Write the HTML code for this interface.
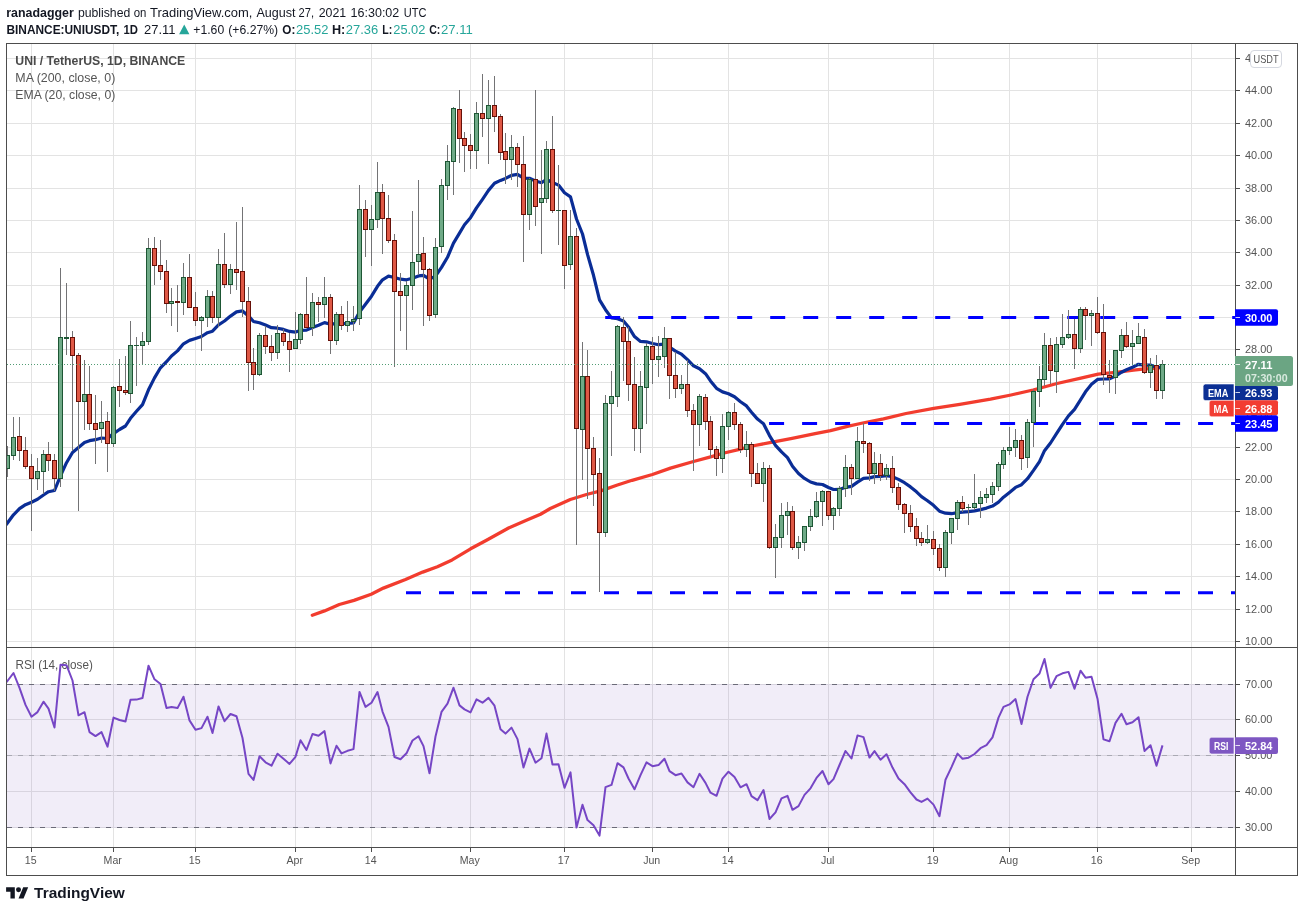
<!DOCTYPE html>
<html lang="en"><head><meta charset="utf-8"><title>UNIUSDT chart</title>
<style>html,body{margin:0;padding:0;background:#fff;}body{width:1304px;height:912px;position:relative;overflow:hidden;font-family:"Liberation Sans",Arial,sans-serif;}</style></head>
<body>
<svg width="1304" height="912" viewBox="0 0 1304 912" style="position:absolute;left:0;top:0" font-family="Liberation Sans, Arial, sans-serif">
<rect x="0" y="0" width="1304" height="912" fill="#ffffff"/>
<defs><clipPath id="cm"><rect x="7.0" y="44.0" width="1228.0" height="603.0"/></clipPath><clipPath id="cr"><rect x="7.0" y="648.0" width="1228.0" height="199.0"/></clipPath></defs>
<g stroke="#e3e3e3" stroke-width="1" shape-rendering="crispEdges">
<line x1="31.5" y1="43.5" x2="31.5" y2="847.5"/>
<line x1="113.5" y1="43.5" x2="113.5" y2="847.5"/>
<line x1="195.5" y1="43.5" x2="195.5" y2="847.5"/>
<line x1="295.5" y1="43.5" x2="295.5" y2="847.5"/>
<line x1="371.5" y1="43.5" x2="371.5" y2="847.5"/>
<line x1="470.5" y1="43.5" x2="470.5" y2="847.5"/>
<line x1="564.5" y1="43.5" x2="564.5" y2="847.5"/>
<line x1="652.5" y1="43.5" x2="652.5" y2="847.5"/>
<line x1="728.5" y1="43.5" x2="728.5" y2="847.5"/>
<line x1="828.5" y1="43.5" x2="828.5" y2="847.5"/>
<line x1="933.5" y1="43.5" x2="933.5" y2="847.5"/>
<line x1="1009.5" y1="43.5" x2="1009.5" y2="847.5"/>
<line x1="1097.5" y1="43.5" x2="1097.5" y2="847.5"/>
<line x1="1191.5" y1="43.5" x2="1191.5" y2="847.5"/>
<line x1="6.5" y1="641.5" x2="1235.5" y2="641.5"/>
<line x1="6.5" y1="609.5" x2="1235.5" y2="609.5"/>
<line x1="6.5" y1="576.5" x2="1235.5" y2="576.5"/>
<line x1="6.5" y1="544.5" x2="1235.5" y2="544.5"/>
<line x1="6.5" y1="511.5" x2="1235.5" y2="511.5"/>
<line x1="6.5" y1="479.5" x2="1235.5" y2="479.5"/>
<line x1="6.5" y1="447.5" x2="1235.5" y2="447.5"/>
<line x1="6.5" y1="414.5" x2="1235.5" y2="414.5"/>
<line x1="6.5" y1="382.5" x2="1235.5" y2="382.5"/>
<line x1="6.5" y1="349.5" x2="1235.5" y2="349.5"/>
<line x1="6.5" y1="317.5" x2="1235.5" y2="317.5"/>
<line x1="6.5" y1="285.5" x2="1235.5" y2="285.5"/>
<line x1="6.5" y1="252.5" x2="1235.5" y2="252.5"/>
<line x1="6.5" y1="220.5" x2="1235.5" y2="220.5"/>
<line x1="6.5" y1="188.5" x2="1235.5" y2="188.5"/>
<line x1="6.5" y1="155.5" x2="1235.5" y2="155.5"/>
<line x1="6.5" y1="123.5" x2="1235.5" y2="123.5"/>
<line x1="6.5" y1="90.5" x2="1235.5" y2="90.5"/>
<line x1="6.5" y1="58.5" x2="1235.5" y2="58.5"/>
<line x1="6.5" y1="684.5" x2="1235.5" y2="684.5"/>
<line x1="6.5" y1="719.5" x2="1235.5" y2="719.5"/>
<line x1="6.5" y1="755.5" x2="1235.5" y2="755.5"/>
<line x1="6.5" y1="791.5" x2="1235.5" y2="791.5"/>
<line x1="6.5" y1="827.5" x2="1235.5" y2="827.5"/>
</g>
<rect x="7.0" y="684" width="1228.0" height="144" fill="#7e57c2" fill-opacity="0.11"/>
<g fill="#4a4a4a" font-size="13px">
<text x="15.3" y="64.7" font-weight="bold" textLength="170" lengthAdjust="spacingAndGlyphs">UNI / TetherUS, 1D, BINANCE</text>
<text x="15.3" y="81.6" fill="#555555" textLength="100" lengthAdjust="spacingAndGlyphs">MA (200, close, 0)</text>
<text x="15.3" y="98.8" fill="#555555" textLength="100" lengthAdjust="spacingAndGlyphs">EMA (20, close, 0)</text>
<text x="15.5" y="669.3" fill="#555555" textLength="77.3" lengthAdjust="spacingAndGlyphs">RSI (14, close)</text>
</g>
<g stroke-width="1" shape-rendering="crispEdges" fill="none">
<line x1="6.5" y1="684.5" x2="1235.5" y2="684.5" stroke="#6b6b78" stroke-dasharray="5 6"/>
<line x1="6.5" y1="827.5" x2="1235.5" y2="827.5" stroke="#6b6b78" stroke-dasharray="5 6"/>
<line x1="6.5" y1="755.5" x2="1235.5" y2="755.5" stroke="#a9a9b3" stroke-dasharray="5 6"/>
</g>
<g clip-path="url(#cm)">
<polyline fill="none" stroke="#f23c2e" stroke-width="3.3" stroke-linejoin="round" stroke-linecap="round" points="312.3,615.3 324.5,610.9 339.3,604.5 354.0,600.4 371.2,594.2 383.4,588.1 405.5,579.5 422.7,572.1 437.4,566.7 452.1,559.9 470.6,548.8 486.5,540.2 508.6,528.0 525.8,520.6 540.5,514.2 550.3,508.5 570.3,499.5 586.5,494.5 601.6,490.6 616.7,485.3 632.1,480.3 652.4,474.5 670.5,468.1 693.5,461.5 708.8,457.3 724.2,453.0 738.4,449.6 752.2,446.0 773.7,441.9 792.1,438.3 815.1,433.7 830.5,430.7 847.4,426.3 862.7,423.0 883.5,418.8 906.0,413.5 933.7,408.4 959.8,404.3 990.5,399.2 1011.0,395.0 1033.0,390.0 1057.0,383.5 1079.8,378.3 1098.2,374.1 1118.1,372.1 1133.5,370.1 1142.7,369.2 1162.5,367.7"/>
<polyline fill="none" stroke="#0a2d96" stroke-width="3.2" stroke-linejoin="round" stroke-linecap="round" points="6.5,524.2 13.5,514.8 19.5,508.7 25.5,504.7 31.5,502.2 37.5,499.3 43.5,495.0 48.5,491.7 54.5,490.5 60.5,475.9 66.5,462.7 72.5,452.5 78.5,447.6 84.5,442.5 89.5,440.7 95.5,439.7 101.5,438.0 107.5,438.5 113.5,433.6 119.5,429.5 125.5,426.0 130.5,418.3 136.5,411.3 142.5,404.6 148.5,389.8 154.5,377.9 160.5,367.8 166.5,361.7 171.5,356.0 177.5,350.9 183.5,343.8 189.5,340.4 195.5,338.5 201.5,336.5 207.5,332.7 212.5,331.2 218.5,324.9 224.5,321.0 230.5,316.1 236.5,311.9 242.5,310.9 248.5,315.9 253.5,321.5 259.5,322.8 265.5,325.0 271.5,327.7 277.5,328.2 283.5,329.4 289.5,331.4 295.5,332.1 300.5,330.4 306.5,330.1 312.5,327.5 318.5,325.3 324.5,322.6 330.5,324.3 336.5,323.4 341.5,323.6 347.5,323.4 353.5,323.0 359.5,312.1 365.5,304.2 371.5,296.2 377.5,286.3 382.5,279.8 388.5,276.1 394.5,277.5 400.5,279.2 406.5,279.8 412.5,278.2 418.5,275.9 423.5,275.3 429.5,279.1 435.5,276.1 441.5,267.4 447.5,257.3 453.5,243.1 459.5,233.2 464.5,224.8 470.5,217.7 476.5,207.8 482.5,199.3 488.5,190.4 494.5,183.3 500.5,180.4 505.5,178.4 511.5,175.4 517.5,174.4 523.5,178.2 529.5,178.3 535.5,181.0 541.5,182.7 546.5,179.5 552.5,182.5 558.5,185.1 564.5,192.8 570.5,196.9 576.5,219.0 582.5,234.0 587.5,254.4 593.5,275.3 599.5,299.8 605.5,309.7 611.5,317.9 617.5,318.7 623.5,320.9 628.5,326.9 634.5,336.6 640.5,341.4 646.5,341.8 652.5,343.5 658.5,344.7 664.5,344.1 669.5,347.1 675.5,351.1 681.5,354.2 687.5,359.6 693.5,365.8 699.5,368.7 705.5,373.7 710.5,380.9 716.5,388.3 722.5,391.9 728.5,393.8 734.5,396.8 740.5,401.8 746.5,405.9 751.5,412.3 757.5,419.1 763.5,423.8 769.5,435.6 775.5,445.3 781.5,451.9 787.5,457.6 792.5,466.2 798.5,473.4 804.5,478.4 810.5,482.0 816.5,483.9 822.5,484.5 828.5,487.5 833.5,489.5 839.5,489.4 845.5,487.3 851.5,486.4 857.5,482.1 863.5,478.4 869.5,477.9 874.5,476.6 880.5,476.5 886.5,475.7 892.5,476.8 898.5,479.4 904.5,482.7 910.5,486.9 916.5,491.8 921.5,496.6 927.5,500.7 933.5,505.3 939.5,511.2 945.5,513.2 951.5,513.7 957.5,512.6 962.5,512.2 968.5,511.7 974.5,510.9 980.5,509.6 986.5,508.1 992.5,506.1 998.5,502.1 1003.5,497.2 1009.5,492.4 1015.5,487.4 1021.5,484.7 1027.5,478.7 1033.5,470.4 1039.5,461.7 1044.5,450.7 1050.5,443.0 1056.5,433.6 1062.5,424.4 1068.5,415.8 1074.5,409.4 1080.5,399.9 1085.5,391.8 1091.5,384.3 1097.5,379.4 1103.5,379.0 1109.5,378.8 1115.5,376.1 1121.5,372.2 1126.5,369.8 1132.5,367.3 1138.5,364.3 1144.5,365.1 1150.5,365.1 1156.5,367.5 1162.5,367.2"/>
<line x1="605.2" y1="317.6" x2="1235.5" y2="317.6" stroke="#0000ff" stroke-width="3" stroke-dasharray="15 18"/>
<line x1="769.1" y1="423.6" x2="1235.5" y2="423.6" stroke="#0000ff" stroke-width="3" stroke-dasharray="15 18"/>
<line x1="406.0" y1="592.8" x2="1235.5" y2="592.8" stroke="#0000ff" stroke-width="3" stroke-dasharray="15 18"/>
<g stroke="#737375" stroke-width="1" shape-rendering="crispEdges">
<line x1="7.5" y1="446" x2="7.5" y2="477"/>
<line x1="13.5" y1="417" x2="13.5" y2="460"/>
<line x1="19.5" y1="417" x2="19.5" y2="461"/>
<line x1="25.5" y1="437" x2="25.5" y2="469"/>
<line x1="31.5" y1="454" x2="31.5" y2="531"/>
<line x1="37.5" y1="458" x2="37.5" y2="490"/>
<line x1="43.5" y1="450" x2="43.5" y2="494"/>
<line x1="48.5" y1="442" x2="48.5" y2="471"/>
<line x1="54.5" y1="454" x2="54.5" y2="491"/>
<line x1="60.5" y1="268" x2="60.5" y2="487"/>
<line x1="66.5" y1="283" x2="66.5" y2="355"/>
<line x1="72.5" y1="331" x2="72.5" y2="451"/>
<line x1="78.5" y1="353" x2="78.5" y2="511"/>
<line x1="84.5" y1="360" x2="84.5" y2="430"/>
<line x1="89.5" y1="366" x2="89.5" y2="430"/>
<line x1="95.5" y1="395" x2="95.5" y2="464"/>
<line x1="101.5" y1="401" x2="101.5" y2="443"/>
<line x1="107.5" y1="412" x2="107.5" y2="472"/>
<line x1="113.5" y1="386" x2="113.5" y2="447"/>
<line x1="119.5" y1="359" x2="119.5" y2="407"/>
<line x1="125.5" y1="356" x2="125.5" y2="395"/>
<line x1="130.5" y1="321" x2="130.5" y2="403"/>
<line x1="136.5" y1="337" x2="136.5" y2="386"/>
<line x1="142.5" y1="332" x2="142.5" y2="364"/>
<line x1="148.5" y1="238" x2="148.5" y2="345"/>
<line x1="154.5" y1="237" x2="154.5" y2="285"/>
<line x1="160.5" y1="240" x2="160.5" y2="280"/>
<line x1="166.5" y1="260" x2="166.5" y2="313"/>
<line x1="171.5" y1="288" x2="171.5" y2="326"/>
<line x1="177.5" y1="285" x2="177.5" y2="332"/>
<line x1="183.5" y1="263" x2="183.5" y2="315"/>
<line x1="189.5" y1="254" x2="189.5" y2="308"/>
<line x1="195.5" y1="292" x2="195.5" y2="326"/>
<line x1="201.5" y1="316" x2="201.5" y2="351"/>
<line x1="207.5" y1="290" x2="207.5" y2="327"/>
<line x1="212.5" y1="291" x2="212.5" y2="323"/>
<line x1="218.5" y1="249" x2="218.5" y2="327"/>
<line x1="224.5" y1="233" x2="224.5" y2="288"/>
<line x1="230.5" y1="264" x2="230.5" y2="294"/>
<line x1="236.5" y1="222" x2="236.5" y2="290"/>
<line x1="242.5" y1="207" x2="242.5" y2="317"/>
<line x1="248.5" y1="287" x2="248.5" y2="391"/>
<line x1="253.5" y1="348" x2="253.5" y2="390"/>
<line x1="259.5" y1="333" x2="259.5" y2="376"/>
<line x1="265.5" y1="326" x2="265.5" y2="354"/>
<line x1="271.5" y1="335" x2="271.5" y2="361"/>
<line x1="277.5" y1="325" x2="277.5" y2="359"/>
<line x1="283.5" y1="329" x2="283.5" y2="346"/>
<line x1="289.5" y1="333" x2="289.5" y2="372"/>
<line x1="295.5" y1="312" x2="295.5" y2="349"/>
<line x1="300.5" y1="313" x2="300.5" y2="344"/>
<line x1="306.5" y1="277" x2="306.5" y2="328"/>
<line x1="312.5" y1="293" x2="312.5" y2="336"/>
<line x1="318.5" y1="297" x2="318.5" y2="322"/>
<line x1="324.5" y1="277" x2="324.5" y2="318"/>
<line x1="330.5" y1="294" x2="330.5" y2="354"/>
<line x1="336.5" y1="312" x2="336.5" y2="345"/>
<line x1="341.5" y1="306" x2="341.5" y2="330"/>
<line x1="347.5" y1="301" x2="347.5" y2="332"/>
<line x1="353.5" y1="306" x2="353.5" y2="331"/>
<line x1="359.5" y1="185" x2="359.5" y2="325"/>
<line x1="365.5" y1="200" x2="365.5" y2="257"/>
<line x1="371.5" y1="205" x2="371.5" y2="266"/>
<line x1="377.5" y1="162" x2="377.5" y2="228"/>
<line x1="382.5" y1="184" x2="382.5" y2="254"/>
<line x1="388.5" y1="195" x2="388.5" y2="243"/>
<line x1="394.5" y1="234" x2="394.5" y2="367"/>
<line x1="400.5" y1="273" x2="400.5" y2="331"/>
<line x1="406.5" y1="281" x2="406.5" y2="350"/>
<line x1="412.5" y1="211" x2="412.5" y2="310"/>
<line x1="418.5" y1="180" x2="418.5" y2="275"/>
<line x1="423.5" y1="237" x2="423.5" y2="326"/>
<line x1="429.5" y1="268" x2="429.5" y2="321"/>
<line x1="435.5" y1="238" x2="435.5" y2="318"/>
<line x1="441.5" y1="179" x2="441.5" y2="253"/>
<line x1="447.5" y1="145" x2="447.5" y2="200"/>
<line x1="453.5" y1="107" x2="453.5" y2="195"/>
<line x1="459.5" y1="90" x2="459.5" y2="163"/>
<line x1="464.5" y1="132" x2="464.5" y2="172"/>
<line x1="470.5" y1="134" x2="470.5" y2="169"/>
<line x1="476.5" y1="102" x2="476.5" y2="169"/>
<line x1="482.5" y1="74" x2="482.5" y2="137"/>
<line x1="488.5" y1="80" x2="488.5" y2="164"/>
<line x1="494.5" y1="76" x2="494.5" y2="132"/>
<line x1="500.5" y1="114" x2="500.5" y2="160"/>
<line x1="505.5" y1="133" x2="505.5" y2="184"/>
<line x1="511.5" y1="135" x2="511.5" y2="180"/>
<line x1="517.5" y1="143" x2="517.5" y2="187"/>
<line x1="523.5" y1="136" x2="523.5" y2="262"/>
<line x1="529.5" y1="178" x2="529.5" y2="230"/>
<line x1="535.5" y1="90" x2="535.5" y2="226"/>
<line x1="541.5" y1="150" x2="541.5" y2="254"/>
<line x1="546.5" y1="141" x2="546.5" y2="203"/>
<line x1="552.5" y1="116" x2="552.5" y2="213"/>
<line x1="558.5" y1="165" x2="558.5" y2="245"/>
<line x1="564.5" y1="210" x2="564.5" y2="289"/>
<line x1="570.5" y1="210" x2="570.5" y2="270"/>
<line x1="576.5" y1="228" x2="576.5" y2="545"/>
<line x1="582.5" y1="342" x2="582.5" y2="480"/>
<line x1="587.5" y1="350" x2="587.5" y2="499"/>
<line x1="593.5" y1="437" x2="593.5" y2="506"/>
<line x1="599.5" y1="458" x2="599.5" y2="592"/>
<line x1="605.5" y1="395" x2="605.5" y2="537"/>
<line x1="611.5" y1="371" x2="611.5" y2="456"/>
<line x1="617.5" y1="325" x2="617.5" y2="407"/>
<line x1="623.5" y1="317" x2="623.5" y2="381"/>
<line x1="628.5" y1="327" x2="628.5" y2="401"/>
<line x1="634.5" y1="357" x2="634.5" y2="451"/>
<line x1="640.5" y1="371" x2="640.5" y2="453"/>
<line x1="646.5" y1="343" x2="646.5" y2="424"/>
<line x1="652.5" y1="337" x2="652.5" y2="384"/>
<line x1="658.5" y1="336" x2="658.5" y2="377"/>
<line x1="664.5" y1="327" x2="664.5" y2="368"/>
<line x1="669.5" y1="338" x2="669.5" y2="399"/>
<line x1="675.5" y1="352" x2="675.5" y2="398"/>
<line x1="681.5" y1="375" x2="681.5" y2="394"/>
<line x1="687.5" y1="360" x2="687.5" y2="417"/>
<line x1="693.5" y1="404" x2="693.5" y2="471"/>
<line x1="699.5" y1="394" x2="699.5" y2="446"/>
<line x1="705.5" y1="394" x2="705.5" y2="430"/>
<line x1="710.5" y1="416" x2="710.5" y2="458"/>
<line x1="716.5" y1="446" x2="716.5" y2="476"/>
<line x1="722.5" y1="414" x2="722.5" y2="473"/>
<line x1="728.5" y1="411" x2="728.5" y2="440"/>
<line x1="734.5" y1="403" x2="734.5" y2="430"/>
<line x1="740.5" y1="422" x2="740.5" y2="453"/>
<line x1="746.5" y1="431" x2="746.5" y2="457"/>
<line x1="751.5" y1="442" x2="751.5" y2="487"/>
<line x1="757.5" y1="463" x2="757.5" y2="484"/>
<line x1="763.5" y1="462" x2="763.5" y2="502"/>
<line x1="769.5" y1="465" x2="769.5" y2="549"/>
<line x1="775.5" y1="524" x2="775.5" y2="578"/>
<line x1="781.5" y1="503" x2="781.5" y2="548"/>
<line x1="787.5" y1="502" x2="787.5" y2="535"/>
<line x1="792.5" y1="506" x2="792.5" y2="550"/>
<line x1="798.5" y1="536" x2="798.5" y2="559"/>
<line x1="804.5" y1="526" x2="804.5" y2="551"/>
<line x1="810.5" y1="509" x2="810.5" y2="531"/>
<line x1="816.5" y1="492" x2="816.5" y2="518"/>
<line x1="822.5" y1="490" x2="822.5" y2="526"/>
<line x1="828.5" y1="491" x2="828.5" y2="520"/>
<line x1="833.5" y1="507" x2="833.5" y2="530"/>
<line x1="839.5" y1="486" x2="839.5" y2="516"/>
<line x1="845.5" y1="455" x2="845.5" y2="497"/>
<line x1="851.5" y1="464" x2="851.5" y2="495"/>
<line x1="857.5" y1="427" x2="857.5" y2="479"/>
<line x1="863.5" y1="423" x2="863.5" y2="453"/>
<line x1="869.5" y1="442" x2="869.5" y2="481"/>
<line x1="874.5" y1="452" x2="874.5" y2="484"/>
<line x1="880.5" y1="454" x2="880.5" y2="481"/>
<line x1="886.5" y1="464" x2="886.5" y2="480"/>
<line x1="892.5" y1="456" x2="892.5" y2="493"/>
<line x1="898.5" y1="483" x2="898.5" y2="510"/>
<line x1="904.5" y1="503" x2="904.5" y2="533"/>
<line x1="910.5" y1="505" x2="910.5" y2="532"/>
<line x1="916.5" y1="518" x2="916.5" y2="546"/>
<line x1="921.5" y1="532" x2="921.5" y2="546"/>
<line x1="927.5" y1="525" x2="927.5" y2="544"/>
<line x1="933.5" y1="531" x2="933.5" y2="555"/>
<line x1="939.5" y1="544" x2="939.5" y2="571"/>
<line x1="945.5" y1="530" x2="945.5" y2="577"/>
<line x1="951.5" y1="518" x2="951.5" y2="544"/>
<line x1="957.5" y1="500" x2="957.5" y2="530"/>
<line x1="962.5" y1="496" x2="962.5" y2="512"/>
<line x1="968.5" y1="504" x2="968.5" y2="525"/>
<line x1="974.5" y1="474" x2="974.5" y2="510"/>
<line x1="980.5" y1="491" x2="980.5" y2="518"/>
<line x1="986.5" y1="488" x2="986.5" y2="503"/>
<line x1="992.5" y1="482" x2="992.5" y2="503"/>
<line x1="998.5" y1="462" x2="998.5" y2="491"/>
<line x1="1003.5" y1="447" x2="1003.5" y2="469"/>
<line x1="1009.5" y1="427" x2="1009.5" y2="455"/>
<line x1="1015.5" y1="429" x2="1015.5" y2="457"/>
<line x1="1021.5" y1="435" x2="1021.5" y2="470"/>
<line x1="1027.5" y1="419" x2="1027.5" y2="468"/>
<line x1="1033.5" y1="389" x2="1033.5" y2="447"/>
<line x1="1039.5" y1="366" x2="1039.5" y2="407"/>
<line x1="1044.5" y1="333" x2="1044.5" y2="386"/>
<line x1="1050.5" y1="338" x2="1050.5" y2="384"/>
<line x1="1056.5" y1="337" x2="1056.5" y2="393"/>
<line x1="1062.5" y1="314" x2="1062.5" y2="348"/>
<line x1="1068.5" y1="310" x2="1068.5" y2="339"/>
<line x1="1074.5" y1="319" x2="1074.5" y2="369"/>
<line x1="1080.5" y1="307" x2="1080.5" y2="353"/>
<line x1="1085.5" y1="307" x2="1085.5" y2="340"/>
<line x1="1091.5" y1="310" x2="1091.5" y2="346"/>
<line x1="1097.5" y1="297" x2="1097.5" y2="334"/>
<line x1="1103.5" y1="304" x2="1103.5" y2="385"/>
<line x1="1109.5" y1="360" x2="1109.5" y2="393"/>
<line x1="1115.5" y1="350" x2="1115.5" y2="394"/>
<line x1="1121.5" y1="329" x2="1121.5" y2="358"/>
<line x1="1126.5" y1="322" x2="1126.5" y2="348"/>
<line x1="1132.5" y1="330" x2="1132.5" y2="364"/>
<line x1="1138.5" y1="323" x2="1138.5" y2="344"/>
<line x1="1144.5" y1="329" x2="1144.5" y2="374"/>
<line x1="1150.5" y1="358" x2="1150.5" y2="388"/>
<line x1="1156.5" y1="355" x2="1156.5" y2="399"/>
<line x1="1162.5" y1="360" x2="1162.5" y2="399"/>
</g>
<rect x="5.5" y="455.5" width="4" height="13" fill="#6faa87" stroke="#1d5634" stroke-width="1"/>
<rect x="11.5" y="437.5" width="4" height="18" fill="#6faa87" stroke="#1d5634" stroke-width="1"/>
<rect x="17.5" y="436.5" width="4" height="14" fill="#df5845" stroke="#661008" stroke-width="1"/>
<rect x="23.5" y="450.5" width="4" height="16" fill="#df5845" stroke="#661008" stroke-width="1"/>
<rect x="29.5" y="466.5" width="4" height="12" fill="#df5845" stroke="#661008" stroke-width="1"/>
<rect x="35.5" y="471.5" width="4" height="7" fill="#6faa87" stroke="#1d5634" stroke-width="1"/>
<rect x="41.5" y="454.5" width="4" height="17" fill="#6faa87" stroke="#1d5634" stroke-width="1"/>
<rect x="46.5" y="454.5" width="4" height="6" fill="#df5845" stroke="#661008" stroke-width="1"/>
<rect x="52.5" y="460.5" width="4" height="18" fill="#df5845" stroke="#661008" stroke-width="1"/>
<rect x="58.5" y="337.5" width="4" height="141" fill="#6faa87" stroke="#1d5634" stroke-width="1"/>
<rect x="64.0" y="337" width="5" height="2" fill="#1d5634"/>
<rect x="70.5" y="337.5" width="4" height="18" fill="#df5845" stroke="#661008" stroke-width="1"/>
<rect x="76.5" y="355.5" width="4" height="46" fill="#df5845" stroke="#661008" stroke-width="1"/>
<rect x="82.5" y="394.5" width="4" height="7" fill="#6faa87" stroke="#1d5634" stroke-width="1"/>
<rect x="87.5" y="394.5" width="4" height="29" fill="#df5845" stroke="#661008" stroke-width="1"/>
<rect x="93.5" y="423.5" width="4" height="6" fill="#df5845" stroke="#661008" stroke-width="1"/>
<rect x="99.5" y="422.5" width="4" height="6" fill="#6faa87" stroke="#1d5634" stroke-width="1"/>
<rect x="105.5" y="421.5" width="4" height="22" fill="#df5845" stroke="#661008" stroke-width="1"/>
<rect x="111.5" y="387.5" width="4" height="56" fill="#6faa87" stroke="#1d5634" stroke-width="1"/>
<rect x="117.5" y="386.5" width="4" height="4" fill="#df5845" stroke="#661008" stroke-width="1"/>
<rect x="123.5" y="390.5" width="4" height="2" fill="#df5845" stroke="#661008" stroke-width="1"/>
<rect x="128.5" y="345.5" width="4" height="48" fill="#6faa87" stroke="#1d5634" stroke-width="1"/>
<rect x="134.0" y="345" width="5" height="1" fill="#1d5634"/>
<rect x="140.5" y="341.5" width="4" height="4" fill="#6faa87" stroke="#1d5634" stroke-width="1"/>
<rect x="146.5" y="248.5" width="4" height="93" fill="#6faa87" stroke="#1d5634" stroke-width="1"/>
<rect x="152.5" y="248.5" width="4" height="17" fill="#df5845" stroke="#661008" stroke-width="1"/>
<rect x="158.5" y="265.5" width="4" height="6" fill="#df5845" stroke="#661008" stroke-width="1"/>
<rect x="164.5" y="271.5" width="4" height="32" fill="#df5845" stroke="#661008" stroke-width="1"/>
<rect x="169.5" y="301.5" width="4" height="2" fill="#6faa87" stroke="#1d5634" stroke-width="1"/>
<rect x="175.0" y="301" width="5" height="2" fill="#661008"/>
<rect x="181.5" y="277.5" width="4" height="25" fill="#6faa87" stroke="#1d5634" stroke-width="1"/>
<rect x="187.5" y="277.5" width="4" height="30" fill="#df5845" stroke="#661008" stroke-width="1"/>
<rect x="193.5" y="307.5" width="4" height="13" fill="#df5845" stroke="#661008" stroke-width="1"/>
<rect x="199.5" y="317.5" width="4" height="3" fill="#6faa87" stroke="#1d5634" stroke-width="1"/>
<rect x="205.5" y="296.5" width="4" height="21" fill="#6faa87" stroke="#1d5634" stroke-width="1"/>
<rect x="210.5" y="296.5" width="4" height="21" fill="#df5845" stroke="#661008" stroke-width="1"/>
<rect x="216.5" y="264.5" width="4" height="53" fill="#6faa87" stroke="#1d5634" stroke-width="1"/>
<rect x="222.5" y="264.5" width="4" height="20" fill="#df5845" stroke="#661008" stroke-width="1"/>
<rect x="228.5" y="269.5" width="4" height="15" fill="#6faa87" stroke="#1d5634" stroke-width="1"/>
<rect x="234.5" y="269.5" width="4" height="3" fill="#df5845" stroke="#661008" stroke-width="1"/>
<rect x="240.5" y="271.5" width="4" height="30" fill="#df5845" stroke="#661008" stroke-width="1"/>
<rect x="246.5" y="301.5" width="4" height="61" fill="#df5845" stroke="#661008" stroke-width="1"/>
<rect x="251.5" y="362.5" width="4" height="12" fill="#df5845" stroke="#661008" stroke-width="1"/>
<rect x="257.5" y="335.5" width="4" height="39" fill="#6faa87" stroke="#1d5634" stroke-width="1"/>
<rect x="263.5" y="335.5" width="4" height="11" fill="#df5845" stroke="#661008" stroke-width="1"/>
<rect x="269.5" y="346.5" width="4" height="6" fill="#df5845" stroke="#661008" stroke-width="1"/>
<rect x="275.5" y="333.5" width="4" height="19" fill="#6faa87" stroke="#1d5634" stroke-width="1"/>
<rect x="281.5" y="333.5" width="4" height="8" fill="#df5845" stroke="#661008" stroke-width="1"/>
<rect x="287.5" y="341.5" width="4" height="8" fill="#df5845" stroke="#661008" stroke-width="1"/>
<rect x="293.5" y="339.5" width="4" height="9" fill="#6faa87" stroke="#1d5634" stroke-width="1"/>
<rect x="298.5" y="314.5" width="4" height="25" fill="#6faa87" stroke="#1d5634" stroke-width="1"/>
<rect x="304.5" y="314.5" width="4" height="13" fill="#df5845" stroke="#661008" stroke-width="1"/>
<rect x="310.5" y="302.5" width="4" height="25" fill="#6faa87" stroke="#1d5634" stroke-width="1"/>
<rect x="316.5" y="302.5" width="4" height="2" fill="#df5845" stroke="#661008" stroke-width="1"/>
<rect x="322.5" y="297.5" width="4" height="7" fill="#6faa87" stroke="#1d5634" stroke-width="1"/>
<rect x="328.5" y="297.5" width="4" height="43" fill="#df5845" stroke="#661008" stroke-width="1"/>
<rect x="334.5" y="314.5" width="4" height="26" fill="#6faa87" stroke="#1d5634" stroke-width="1"/>
<rect x="339.5" y="314.5" width="4" height="11" fill="#df5845" stroke="#661008" stroke-width="1"/>
<rect x="345.5" y="321.5" width="4" height="4" fill="#6faa87" stroke="#1d5634" stroke-width="1"/>
<rect x="351.5" y="319.5" width="4" height="2" fill="#6faa87" stroke="#1d5634" stroke-width="1"/>
<rect x="357.5" y="209.5" width="4" height="109" fill="#6faa87" stroke="#1d5634" stroke-width="1"/>
<rect x="363.5" y="209.5" width="4" height="20" fill="#df5845" stroke="#661008" stroke-width="1"/>
<rect x="369.5" y="219.5" width="4" height="10" fill="#6faa87" stroke="#1d5634" stroke-width="1"/>
<rect x="375.5" y="192.5" width="4" height="27" fill="#6faa87" stroke="#1d5634" stroke-width="1"/>
<rect x="380.5" y="192.5" width="4" height="26" fill="#df5845" stroke="#661008" stroke-width="1"/>
<rect x="386.5" y="218.5" width="4" height="22" fill="#df5845" stroke="#661008" stroke-width="1"/>
<rect x="392.5" y="240.5" width="4" height="51" fill="#df5845" stroke="#661008" stroke-width="1"/>
<rect x="398.5" y="291.5" width="4" height="4" fill="#df5845" stroke="#661008" stroke-width="1"/>
<rect x="404.5" y="285.5" width="4" height="10" fill="#6faa87" stroke="#1d5634" stroke-width="1"/>
<rect x="410.5" y="262.5" width="4" height="23" fill="#6faa87" stroke="#1d5634" stroke-width="1"/>
<rect x="416.5" y="254.5" width="4" height="7" fill="#6faa87" stroke="#1d5634" stroke-width="1"/>
<rect x="421.5" y="253.5" width="4" height="16" fill="#df5845" stroke="#661008" stroke-width="1"/>
<rect x="427.5" y="269.5" width="4" height="46" fill="#df5845" stroke="#661008" stroke-width="1"/>
<rect x="433.5" y="247.5" width="4" height="67" fill="#6faa87" stroke="#1d5634" stroke-width="1"/>
<rect x="439.5" y="185.5" width="4" height="61" fill="#6faa87" stroke="#1d5634" stroke-width="1"/>
<rect x="445.5" y="161.5" width="4" height="24" fill="#6faa87" stroke="#1d5634" stroke-width="1"/>
<rect x="451.5" y="108.5" width="4" height="53" fill="#6faa87" stroke="#1d5634" stroke-width="1"/>
<rect x="457.5" y="109.5" width="4" height="29" fill="#df5845" stroke="#661008" stroke-width="1"/>
<rect x="462.5" y="138.5" width="4" height="7" fill="#df5845" stroke="#661008" stroke-width="1"/>
<rect x="468.5" y="145.5" width="4" height="5" fill="#df5845" stroke="#661008" stroke-width="1"/>
<rect x="474.5" y="113.5" width="4" height="37" fill="#6faa87" stroke="#1d5634" stroke-width="1"/>
<rect x="480.5" y="113.5" width="4" height="5" fill="#df5845" stroke="#661008" stroke-width="1"/>
<rect x="486.5" y="105.5" width="4" height="13" fill="#6faa87" stroke="#1d5634" stroke-width="1"/>
<rect x="492.5" y="105.5" width="4" height="11" fill="#df5845" stroke="#661008" stroke-width="1"/>
<rect x="498.5" y="116.5" width="4" height="36" fill="#df5845" stroke="#661008" stroke-width="1"/>
<rect x="503.5" y="151.5" width="4" height="8" fill="#df5845" stroke="#661008" stroke-width="1"/>
<rect x="509.5" y="147.5" width="4" height="12" fill="#6faa87" stroke="#1d5634" stroke-width="1"/>
<rect x="515.5" y="147.5" width="4" height="17" fill="#df5845" stroke="#661008" stroke-width="1"/>
<rect x="521.5" y="164.5" width="4" height="50" fill="#df5845" stroke="#661008" stroke-width="1"/>
<rect x="527.5" y="179.5" width="4" height="35" fill="#6faa87" stroke="#1d5634" stroke-width="1"/>
<rect x="533.5" y="179.5" width="4" height="27" fill="#df5845" stroke="#661008" stroke-width="1"/>
<rect x="539.5" y="198.5" width="4" height="4" fill="#6faa87" stroke="#1d5634" stroke-width="1"/>
<rect x="544.5" y="149.5" width="4" height="49" fill="#6faa87" stroke="#1d5634" stroke-width="1"/>
<rect x="550.5" y="149.5" width="4" height="61" fill="#df5845" stroke="#661008" stroke-width="1"/>
<rect x="556.0" y="210" width="5" height="1" fill="#1d5634"/>
<rect x="562.5" y="210.5" width="4" height="55" fill="#df5845" stroke="#661008" stroke-width="1"/>
<rect x="568.5" y="236.5" width="4" height="28" fill="#6faa87" stroke="#1d5634" stroke-width="1"/>
<rect x="574.5" y="236.5" width="4" height="192" fill="#df5845" stroke="#661008" stroke-width="1"/>
<rect x="580.5" y="376.5" width="4" height="53" fill="#6faa87" stroke="#1d5634" stroke-width="1"/>
<rect x="585.5" y="376.5" width="4" height="72" fill="#df5845" stroke="#661008" stroke-width="1"/>
<rect x="591.5" y="448.5" width="4" height="26" fill="#df5845" stroke="#661008" stroke-width="1"/>
<rect x="597.5" y="473.5" width="4" height="59" fill="#df5845" stroke="#661008" stroke-width="1"/>
<rect x="603.5" y="403.5" width="4" height="129" fill="#6faa87" stroke="#1d5634" stroke-width="1"/>
<rect x="609.5" y="396.5" width="4" height="7" fill="#6faa87" stroke="#1d5634" stroke-width="1"/>
<rect x="615.5" y="326.5" width="4" height="70" fill="#6faa87" stroke="#1d5634" stroke-width="1"/>
<rect x="621.5" y="327.5" width="4" height="14" fill="#df5845" stroke="#661008" stroke-width="1"/>
<rect x="626.5" y="341.5" width="4" height="43" fill="#df5845" stroke="#661008" stroke-width="1"/>
<rect x="632.5" y="384.5" width="4" height="44" fill="#df5845" stroke="#661008" stroke-width="1"/>
<rect x="638.5" y="386.5" width="4" height="42" fill="#6faa87" stroke="#1d5634" stroke-width="1"/>
<rect x="644.5" y="346.5" width="4" height="41" fill="#6faa87" stroke="#1d5634" stroke-width="1"/>
<rect x="650.5" y="346.5" width="4" height="13" fill="#df5845" stroke="#661008" stroke-width="1"/>
<rect x="656.5" y="356.5" width="4" height="3" fill="#6faa87" stroke="#1d5634" stroke-width="1"/>
<rect x="662.5" y="338.5" width="4" height="18" fill="#6faa87" stroke="#1d5634" stroke-width="1"/>
<rect x="667.5" y="338.5" width="4" height="37" fill="#df5845" stroke="#661008" stroke-width="1"/>
<rect x="673.5" y="375.5" width="4" height="13" fill="#df5845" stroke="#661008" stroke-width="1"/>
<rect x="679.5" y="384.5" width="4" height="4" fill="#6faa87" stroke="#1d5634" stroke-width="1"/>
<rect x="685.5" y="384.5" width="4" height="26" fill="#df5845" stroke="#661008" stroke-width="1"/>
<rect x="691.5" y="410.5" width="4" height="14" fill="#df5845" stroke="#661008" stroke-width="1"/>
<rect x="697.5" y="396.5" width="4" height="28" fill="#6faa87" stroke="#1d5634" stroke-width="1"/>
<rect x="703.5" y="397.5" width="4" height="24" fill="#df5845" stroke="#661008" stroke-width="1"/>
<rect x="708.5" y="421.5" width="4" height="28" fill="#df5845" stroke="#661008" stroke-width="1"/>
<rect x="714.5" y="449.5" width="4" height="9" fill="#df5845" stroke="#661008" stroke-width="1"/>
<rect x="720.5" y="426.5" width="4" height="32" fill="#6faa87" stroke="#1d5634" stroke-width="1"/>
<rect x="726.5" y="412.5" width="4" height="14" fill="#6faa87" stroke="#1d5634" stroke-width="1"/>
<rect x="732.5" y="412.5" width="4" height="12" fill="#df5845" stroke="#661008" stroke-width="1"/>
<rect x="738.5" y="424.5" width="4" height="25" fill="#df5845" stroke="#661008" stroke-width="1"/>
<rect x="744.5" y="444.5" width="4" height="5" fill="#6faa87" stroke="#1d5634" stroke-width="1"/>
<rect x="749.5" y="444.5" width="4" height="29" fill="#df5845" stroke="#661008" stroke-width="1"/>
<rect x="755.5" y="473.5" width="4" height="10" fill="#df5845" stroke="#661008" stroke-width="1"/>
<rect x="761.5" y="468.5" width="4" height="15" fill="#6faa87" stroke="#1d5634" stroke-width="1"/>
<rect x="767.5" y="468.5" width="4" height="79" fill="#df5845" stroke="#661008" stroke-width="1"/>
<rect x="773.5" y="537.5" width="4" height="10" fill="#6faa87" stroke="#1d5634" stroke-width="1"/>
<rect x="779.5" y="515.5" width="4" height="22" fill="#6faa87" stroke="#1d5634" stroke-width="1"/>
<rect x="785.5" y="511.5" width="4" height="4" fill="#6faa87" stroke="#1d5634" stroke-width="1"/>
<rect x="790.5" y="511.5" width="4" height="36" fill="#df5845" stroke="#661008" stroke-width="1"/>
<rect x="796.5" y="542.5" width="4" height="5" fill="#6faa87" stroke="#1d5634" stroke-width="1"/>
<rect x="802.5" y="526.5" width="4" height="16" fill="#6faa87" stroke="#1d5634" stroke-width="1"/>
<rect x="808.5" y="516.5" width="4" height="10" fill="#6faa87" stroke="#1d5634" stroke-width="1"/>
<rect x="814.5" y="501.5" width="4" height="15" fill="#6faa87" stroke="#1d5634" stroke-width="1"/>
<rect x="820.5" y="491.5" width="4" height="10" fill="#6faa87" stroke="#1d5634" stroke-width="1"/>
<rect x="826.5" y="491.5" width="4" height="24" fill="#df5845" stroke="#661008" stroke-width="1"/>
<rect x="831.5" y="508.5" width="4" height="7" fill="#6faa87" stroke="#1d5634" stroke-width="1"/>
<rect x="837.5" y="488.5" width="4" height="20" fill="#6faa87" stroke="#1d5634" stroke-width="1"/>
<rect x="843.5" y="467.5" width="4" height="21" fill="#6faa87" stroke="#1d5634" stroke-width="1"/>
<rect x="849.5" y="467.5" width="4" height="11" fill="#df5845" stroke="#661008" stroke-width="1"/>
<rect x="855.5" y="441.5" width="4" height="37" fill="#6faa87" stroke="#1d5634" stroke-width="1"/>
<rect x="861.5" y="441.5" width="4" height="2" fill="#df5845" stroke="#661008" stroke-width="1"/>
<rect x="867.5" y="443.5" width="4" height="30" fill="#df5845" stroke="#661008" stroke-width="1"/>
<rect x="872.5" y="463.5" width="4" height="10" fill="#6faa87" stroke="#1d5634" stroke-width="1"/>
<rect x="878.5" y="463.5" width="4" height="12" fill="#df5845" stroke="#661008" stroke-width="1"/>
<rect x="884.5" y="468.5" width="4" height="7" fill="#6faa87" stroke="#1d5634" stroke-width="1"/>
<rect x="890.5" y="468.5" width="4" height="19" fill="#df5845" stroke="#661008" stroke-width="1"/>
<rect x="896.5" y="487.5" width="4" height="17" fill="#df5845" stroke="#661008" stroke-width="1"/>
<rect x="902.5" y="504.5" width="4" height="9" fill="#df5845" stroke="#661008" stroke-width="1"/>
<rect x="908.5" y="513.5" width="4" height="13" fill="#df5845" stroke="#661008" stroke-width="1"/>
<rect x="914.5" y="526.5" width="4" height="12" fill="#df5845" stroke="#661008" stroke-width="1"/>
<rect x="919.5" y="538.5" width="4" height="4" fill="#df5845" stroke="#661008" stroke-width="1"/>
<rect x="925.5" y="539.5" width="4" height="3" fill="#6faa87" stroke="#1d5634" stroke-width="1"/>
<rect x="931.5" y="539.5" width="4" height="9" fill="#df5845" stroke="#661008" stroke-width="1"/>
<rect x="937.5" y="548.5" width="4" height="19" fill="#df5845" stroke="#661008" stroke-width="1"/>
<rect x="943.5" y="532.5" width="4" height="35" fill="#6faa87" stroke="#1d5634" stroke-width="1"/>
<rect x="949.5" y="518.5" width="4" height="14" fill="#6faa87" stroke="#1d5634" stroke-width="1"/>
<rect x="955.5" y="502.5" width="4" height="16" fill="#6faa87" stroke="#1d5634" stroke-width="1"/>
<rect x="960.5" y="502.5" width="4" height="6" fill="#df5845" stroke="#661008" stroke-width="1"/>
<rect x="966.0" y="507" width="5" height="1" fill="#1d5634"/>
<rect x="972.5" y="503.5" width="4" height="4" fill="#6faa87" stroke="#1d5634" stroke-width="1"/>
<rect x="978.5" y="497.5" width="4" height="6" fill="#6faa87" stroke="#1d5634" stroke-width="1"/>
<rect x="984.5" y="494.5" width="4" height="3" fill="#6faa87" stroke="#1d5634" stroke-width="1"/>
<rect x="990.5" y="486.5" width="4" height="8" fill="#6faa87" stroke="#1d5634" stroke-width="1"/>
<rect x="996.5" y="464.5" width="4" height="22" fill="#6faa87" stroke="#1d5634" stroke-width="1"/>
<rect x="1001.5" y="450.5" width="4" height="14" fill="#6faa87" stroke="#1d5634" stroke-width="1"/>
<rect x="1007.5" y="447.5" width="4" height="3" fill="#6faa87" stroke="#1d5634" stroke-width="1"/>
<rect x="1013.5" y="440.5" width="4" height="7" fill="#6faa87" stroke="#1d5634" stroke-width="1"/>
<rect x="1019.5" y="440.5" width="4" height="18" fill="#df5845" stroke="#661008" stroke-width="1"/>
<rect x="1025.5" y="422.5" width="4" height="35" fill="#6faa87" stroke="#1d5634" stroke-width="1"/>
<rect x="1031.5" y="391.5" width="4" height="31" fill="#6faa87" stroke="#1d5634" stroke-width="1"/>
<rect x="1037.5" y="379.5" width="4" height="12" fill="#6faa87" stroke="#1d5634" stroke-width="1"/>
<rect x="1042.5" y="345.5" width="4" height="34" fill="#6faa87" stroke="#1d5634" stroke-width="1"/>
<rect x="1048.5" y="345.5" width="4" height="25" fill="#df5845" stroke="#661008" stroke-width="1"/>
<rect x="1054.5" y="344.5" width="4" height="27" fill="#6faa87" stroke="#1d5634" stroke-width="1"/>
<rect x="1060.5" y="337.5" width="4" height="7" fill="#6faa87" stroke="#1d5634" stroke-width="1"/>
<rect x="1066.5" y="334.5" width="4" height="3" fill="#6faa87" stroke="#1d5634" stroke-width="1"/>
<rect x="1072.5" y="334.5" width="4" height="14" fill="#df5845" stroke="#661008" stroke-width="1"/>
<rect x="1078.5" y="309.5" width="4" height="39" fill="#6faa87" stroke="#1d5634" stroke-width="1"/>
<rect x="1083.5" y="309.5" width="4" height="6" fill="#df5845" stroke="#661008" stroke-width="1"/>
<rect x="1089.5" y="313.5" width="4" height="2" fill="#6faa87" stroke="#1d5634" stroke-width="1"/>
<rect x="1095.5" y="313.5" width="4" height="19" fill="#df5845" stroke="#661008" stroke-width="1"/>
<rect x="1101.5" y="332.5" width="4" height="42" fill="#df5845" stroke="#661008" stroke-width="1"/>
<rect x="1107.5" y="375.5" width="4" height="2" fill="#df5845" stroke="#661008" stroke-width="1"/>
<rect x="1113.5" y="350.5" width="4" height="27" fill="#6faa87" stroke="#1d5634" stroke-width="1"/>
<rect x="1119.5" y="335.5" width="4" height="15" fill="#6faa87" stroke="#1d5634" stroke-width="1"/>
<rect x="1124.5" y="335.5" width="4" height="11" fill="#df5845" stroke="#661008" stroke-width="1"/>
<rect x="1130.5" y="343.5" width="4" height="3" fill="#6faa87" stroke="#1d5634" stroke-width="1"/>
<rect x="1136.5" y="336.5" width="4" height="7" fill="#6faa87" stroke="#1d5634" stroke-width="1"/>
<rect x="1142.5" y="337.5" width="4" height="35" fill="#df5845" stroke="#661008" stroke-width="1"/>
<rect x="1148.5" y="365.5" width="4" height="7" fill="#6faa87" stroke="#1d5634" stroke-width="1"/>
<rect x="1154.5" y="365.5" width="4" height="25" fill="#df5845" stroke="#661008" stroke-width="1"/>
<rect x="1160.5" y="364.5" width="4" height="26" fill="#6faa87" stroke="#1d5634" stroke-width="1"/>
<line x1="7" y1="364.5" x2="1235.5" y2="364.5" stroke="#529c74" stroke-width="1" stroke-dasharray="1 2" shape-rendering="crispEdges"/>
</g>
<g clip-path="url(#cr)">
<polyline fill="none" stroke="#7646c5" stroke-width="2" stroke-linejoin="round" points="6.5,682.2 13.5,673.0 19.5,687.9 25.5,704.9 31.5,716.7 37.5,712.1 43.5,701.7 48.5,708.6 54.5,727.5 60.5,664.8 66.5,665.2 72.5,680.5 78.5,715.3 84.5,712.2 89.5,732.1 95.5,736.1 101.5,732.1 107.5,746.7 113.5,717.6 119.5,720.0 125.5,721.5 130.5,699.7 136.5,699.6 142.5,698.0 148.5,665.7 154.5,679.3 160.5,684.0 166.5,708.1 171.5,707.1 177.5,708.1 183.5,696.7 189.5,720.4 195.5,729.8 201.5,728.1 207.5,716.7 212.5,733.0 218.5,706.5 224.5,721.2 230.5,714.0 236.5,716.3 242.5,738.0 248.5,773.9 253.5,779.9 259.5,756.2 265.5,762.3 271.5,765.7 277.5,753.7 283.5,758.8 289.5,763.9 295.5,756.8 300.5,740.3 306.5,750.0 312.5,734.0 318.5,735.8 324.5,731.1 330.5,763.4 336.5,745.7 341.5,753.4 347.5,750.8 353.5,749.1 359.5,691.9 365.5,706.9 371.5,702.7 377.5,692.0 382.5,711.6 388.5,726.9 394.5,757.0 400.5,759.3 406.5,753.3 412.5,740.5 418.5,736.2 423.5,746.1 429.5,773.3 435.5,736.5 441.5,711.9 447.5,703.7 453.5,687.7 459.5,705.4 464.5,709.4 470.5,712.4 476.5,699.3 482.5,702.7 488.5,697.9 494.5,705.7 500.5,729.3 505.5,733.6 511.5,727.6 517.5,739.1 523.5,767.5 529.5,748.6 535.5,762.7 541.5,758.2 546.5,733.6 552.5,764.5 558.5,764.2 564.5,787.8 570.5,772.4 576.5,827.6 582.5,804.8 587.5,820.1 593.5,825.2 599.5,835.6 605.5,787.1 611.5,784.9 617.5,763.2 623.5,767.3 628.5,778.5 634.5,789.3 640.5,775.1 646.5,762.4 652.5,766.2 658.5,765.1 664.5,758.8 669.5,771.1 675.5,775.2 681.5,773.5 687.5,782.4 693.5,787.2 699.5,773.8 705.5,782.9 710.5,792.7 716.5,795.8 722.5,778.7 728.5,771.7 734.5,776.9 740.5,787.3 746.5,784.2 751.5,796.2 757.5,800.2 763.5,790.0 769.5,819.0 775.5,812.4 781.5,798.4 787.5,795.9 792.5,809.8 798.5,806.1 804.5,794.9 810.5,788.3 816.5,777.9 822.5,771.0 828.5,784.3 833.5,779.1 839.5,765.0 845.5,751.0 851.5,758.5 857.5,735.4 863.5,737.1 869.5,757.6 874.5,751.1 880.5,759.7 886.5,754.2 892.5,767.6 898.5,778.5 904.5,784.2 910.5,792.4 916.5,799.5 921.5,801.9 927.5,798.6 933.5,804.6 939.5,816.2 945.5,779.7 951.5,767.1 957.5,753.6 962.5,758.7 968.5,757.7 974.5,754.0 980.5,748.2 986.5,745.2 992.5,737.4 998.5,717.6 1003.5,706.9 1009.5,704.4 1015.5,699.1 1021.5,724.0 1027.5,696.7 1033.5,679.2 1039.5,673.5 1044.5,659.0 1050.5,687.9 1056.5,676.2 1062.5,673.3 1068.5,671.9 1074.5,688.7 1080.5,670.7 1085.5,677.7 1091.5,676.7 1097.5,698.7 1103.5,739.4 1109.5,741.3 1115.5,722.9 1121.5,713.8 1126.5,724.3 1132.5,722.3 1138.5,717.2 1144.5,750.9 1150.5,745.3 1156.5,765.7 1162.5,745.4"/>
</g>
<g stroke="#4d4d4d" stroke-width="1" fill="none" shape-rendering="crispEdges">
<rect x="6.5" y="43.5" width="1291.0" height="832.0"/>
<line x1="1235.5" y1="43.5" x2="1235.5" y2="875.5"/>
<line x1="6.5" y1="647.5" x2="1297.5" y2="647.5"/>
<line x1="6.5" y1="847.5" x2="1297.5" y2="847.5"/>
<line x1="1235.5" y1="641.5" x2="1240.0" y2="641.5"/>
<line x1="1235.5" y1="609.5" x2="1240.0" y2="609.5"/>
<line x1="1235.5" y1="576.5" x2="1240.0" y2="576.5"/>
<line x1="1235.5" y1="544.5" x2="1240.0" y2="544.5"/>
<line x1="1235.5" y1="511.5" x2="1240.0" y2="511.5"/>
<line x1="1235.5" y1="479.5" x2="1240.0" y2="479.5"/>
<line x1="1235.5" y1="447.5" x2="1240.0" y2="447.5"/>
<line x1="1235.5" y1="414.5" x2="1240.0" y2="414.5"/>
<line x1="1235.5" y1="382.5" x2="1240.0" y2="382.5"/>
<line x1="1235.5" y1="349.5" x2="1240.0" y2="349.5"/>
<line x1="1235.5" y1="317.5" x2="1240.0" y2="317.5"/>
<line x1="1235.5" y1="285.5" x2="1240.0" y2="285.5"/>
<line x1="1235.5" y1="252.5" x2="1240.0" y2="252.5"/>
<line x1="1235.5" y1="220.5" x2="1240.0" y2="220.5"/>
<line x1="1235.5" y1="188.5" x2="1240.0" y2="188.5"/>
<line x1="1235.5" y1="155.5" x2="1240.0" y2="155.5"/>
<line x1="1235.5" y1="123.5" x2="1240.0" y2="123.5"/>
<line x1="1235.5" y1="90.5" x2="1240.0" y2="90.5"/>
<line x1="1235.5" y1="58.5" x2="1240.0" y2="58.5"/>
<line x1="1235.5" y1="684.5" x2="1240.0" y2="684.5"/>
<line x1="1235.5" y1="719.5" x2="1240.0" y2="719.5"/>
<line x1="1235.5" y1="755.5" x2="1240.0" y2="755.5"/>
<line x1="1235.5" y1="791.5" x2="1240.0" y2="791.5"/>
<line x1="1235.5" y1="827.5" x2="1240.0" y2="827.5"/>
<line x1="31.5" y1="847.5" x2="31.5" y2="852.0"/>
<line x1="113.5" y1="847.5" x2="113.5" y2="852.0"/>
<line x1="195.5" y1="847.5" x2="195.5" y2="852.0"/>
<line x1="295.5" y1="847.5" x2="295.5" y2="852.0"/>
<line x1="371.5" y1="847.5" x2="371.5" y2="852.0"/>
<line x1="470.5" y1="847.5" x2="470.5" y2="852.0"/>
<line x1="564.5" y1="847.5" x2="564.5" y2="852.0"/>
<line x1="652.5" y1="847.5" x2="652.5" y2="852.0"/>
<line x1="728.5" y1="847.5" x2="728.5" y2="852.0"/>
<line x1="828.5" y1="847.5" x2="828.5" y2="852.0"/>
<line x1="933.5" y1="847.5" x2="933.5" y2="852.0"/>
<line x1="1009.5" y1="847.5" x2="1009.5" y2="852.0"/>
<line x1="1097.5" y1="847.5" x2="1097.5" y2="852.0"/>
<line x1="1191.5" y1="847.5" x2="1191.5" y2="852.0"/>
</g>
<g fill="#555555" font-size="11px">
<text x="1245" y="645.0" textLength="27.4" lengthAdjust="spacingAndGlyphs">10.00</text>
<text x="1245" y="613.0" textLength="27.4" lengthAdjust="spacingAndGlyphs">12.00</text>
<text x="1245" y="580.0" textLength="27.4" lengthAdjust="spacingAndGlyphs">14.00</text>
<text x="1245" y="548.0" textLength="27.4" lengthAdjust="spacingAndGlyphs">16.00</text>
<text x="1245" y="515.0" textLength="27.4" lengthAdjust="spacingAndGlyphs">18.00</text>
<text x="1245" y="483.0" textLength="27.4" lengthAdjust="spacingAndGlyphs">20.00</text>
<text x="1245" y="451.0" textLength="27.4" lengthAdjust="spacingAndGlyphs">22.00</text>
<text x="1245" y="418.0" textLength="27.4" lengthAdjust="spacingAndGlyphs">24.00</text>
<text x="1245" y="386.0" textLength="27.4" lengthAdjust="spacingAndGlyphs">26.00</text>
<text x="1245" y="353.0" textLength="27.4" lengthAdjust="spacingAndGlyphs">28.00</text>
<text x="1245" y="321.0" textLength="27.4" lengthAdjust="spacingAndGlyphs">30.00</text>
<text x="1245" y="289.0" textLength="27.4" lengthAdjust="spacingAndGlyphs">32.00</text>
<text x="1245" y="256.0" textLength="27.4" lengthAdjust="spacingAndGlyphs">34.00</text>
<text x="1245" y="224.0" textLength="27.4" lengthAdjust="spacingAndGlyphs">36.00</text>
<text x="1245" y="192.0" textLength="27.4" lengthAdjust="spacingAndGlyphs">38.00</text>
<text x="1245" y="159.0" textLength="27.4" lengthAdjust="spacingAndGlyphs">40.00</text>
<text x="1245" y="127.0" textLength="27.4" lengthAdjust="spacingAndGlyphs">42.00</text>
<text x="1245" y="94.0" textLength="27.4" lengthAdjust="spacingAndGlyphs">44.00</text>
<text x="1245" y="62.0" textLength="27.4" lengthAdjust="spacingAndGlyphs">46.00</text>
<text x="1245" y="688.0" textLength="27.4" lengthAdjust="spacingAndGlyphs">70.00</text>
<text x="1245" y="723.0" textLength="27.4" lengthAdjust="spacingAndGlyphs">60.00</text>
<text x="1245" y="759.0" textLength="27.4" lengthAdjust="spacingAndGlyphs">50.00</text>
<text x="1245" y="795.0" textLength="27.4" lengthAdjust="spacingAndGlyphs">40.00</text>
<text x="1245" y="831.0" textLength="27.4" lengthAdjust="spacingAndGlyphs">30.00</text>
<text x="30.7" y="863.7" text-anchor="middle" font-size="10.6px">15</text>
<text x="112.7" y="863.7" text-anchor="middle" font-size="10.6px">Mar</text>
<text x="194.7" y="863.7" text-anchor="middle" font-size="10.6px">15</text>
<text x="294.7" y="863.7" text-anchor="middle" font-size="10.6px">Apr</text>
<text x="370.7" y="863.7" text-anchor="middle" font-size="10.6px">14</text>
<text x="469.7" y="863.7" text-anchor="middle" font-size="10.6px">May</text>
<text x="563.7" y="863.7" text-anchor="middle" font-size="10.6px">17</text>
<text x="651.7" y="863.7" text-anchor="middle" font-size="10.6px">Jun</text>
<text x="727.7" y="863.7" text-anchor="middle" font-size="10.6px">14</text>
<text x="827.7" y="863.7" text-anchor="middle" font-size="10.6px">Jul</text>
<text x="932.7" y="863.7" text-anchor="middle" font-size="10.6px">19</text>
<text x="1008.7" y="863.7" text-anchor="middle" font-size="10.6px">Aug</text>
<text x="1096.7" y="863.7" text-anchor="middle" font-size="10.6px">16</text>
<text x="1190.7" y="863.7" text-anchor="middle" font-size="10.6px">Sep</text>
</g>
<rect x="1250.5" y="50.5" width="31" height="17" rx="3.5" fill="#ffffff" stroke="#d5d8e0" stroke-width="1"/>
<text x="1266" y="63" font-size="11px" fill="#555555" text-anchor="middle" textLength="25" lengthAdjust="spacingAndGlyphs">USDT</text>
<path d="M1235 309.2H1276Q1278 309.2 1278 311.2V323.8Q1278 325.8 1276 325.8H1235Z" fill="#0000ff"/>
<line x1="1235.5" y1="317.5" x2="1240" y2="317.5" stroke="#ffffff" stroke-opacity="0.8" stroke-width="1"/>
<text x="1245" y="321.8" font-size="11px" font-weight="bold" fill="#ffffff" textLength="27.4" lengthAdjust="spacingAndGlyphs">30.00</text>
<path d="M1235 356.1H1290.5Q1293 356.1 1293 358.6V383.5Q1293 386 1290.5 386H1235Z" fill="#6ba583"/>
<line x1="1235.5" y1="364.5" x2="1240" y2="364.5" stroke="#ffffff" stroke-opacity="0.8" stroke-width="1"/>
<text x="1245" y="368.9" font-size="11px" font-weight="bold" fill="#ffffff" textLength="27.4" lengthAdjust="spacingAndGlyphs">27.11</text>
<text x="1245" y="381.8" font-size="11px" font-weight="bold" fill="#d9eadf" textLength="42.6" lengthAdjust="spacingAndGlyphs">07:30:00</text>
<path d="M1235 386H1276Q1278 386 1278 388V398.3Q1278 400.3 1276 400.3H1235Z" fill="#0b2f94"/>
<line x1="1235.5" y1="392.5" x2="1240" y2="392.5" stroke="#ffffff" stroke-opacity="0.8" stroke-width="1"/>
<text x="1245" y="396.8" font-size="11px" font-weight="bold" fill="#ffffff" textLength="27.4" lengthAdjust="spacingAndGlyphs">26.93</text>
<path d="M1234 384H1205.6Q1203.1 384 1203.1 386.5V398.1Q1203.1 400.6 1205.6 400.6H1234Z" fill="#0b2f94" stroke="#ffffff" stroke-width="0.6"/>
<text x="1208.0" y="396.8" font-size="11px" font-weight="bold" fill="#ffffff" textLength="20.4" lengthAdjust="spacingAndGlyphs">EMA</text>
<path d="M1235 400.3H1276Q1278 400.3 1278 402.3V413.3Q1278 415.3 1276 415.3H1235Z" fill="#f23d32"/>
<line x1="1235.5" y1="408.5" x2="1240" y2="408.5" stroke="#ffffff" stroke-opacity="0.8" stroke-width="1"/>
<text x="1245" y="412.8" font-size="11px" font-weight="bold" fill="#ffffff" textLength="27.4" lengthAdjust="spacingAndGlyphs">26.88</text>
<path d="M1234 400.3H1211.7Q1209.2 400.3 1209.2 402.8V414.3Q1209.2 416.8 1211.7 416.8H1234Z" fill="#f23d32" stroke="#ffffff" stroke-width="0.6"/>
<text x="1213.6" y="412.8" font-size="11px" font-weight="bold" fill="#ffffff" textLength="14.8" lengthAdjust="spacingAndGlyphs">MA</text>
<path d="M1235 415.3H1276Q1278 415.3 1278 417.3V429.8Q1278 431.8 1276 431.8H1235Z" fill="#0000ff"/>
<line x1="1235.5" y1="423.5" x2="1240" y2="423.5" stroke="#ffffff" stroke-opacity="0.8" stroke-width="1"/>
<text x="1245" y="427.8" font-size="11px" font-weight="bold" fill="#ffffff" textLength="27.4" lengthAdjust="spacingAndGlyphs">23.45</text>
<path d="M1235 737.3H1276Q1278 737.3 1278 739.3V752Q1278 754 1276 754H1235Z" fill="#7e57c2"/>
<line x1="1235.5" y1="745.5" x2="1240" y2="745.5" stroke="#ffffff" stroke-opacity="0.8" stroke-width="1"/>
<text x="1245" y="749.8" font-size="11px" font-weight="bold" fill="#ffffff" textLength="27.4" lengthAdjust="spacingAndGlyphs">52.84</text>
<path d="M1234 737.3H1211.7Q1209.2 737.3 1209.2 739.8V751.5Q1209.2 754 1211.7 754H1234Z" fill="#7e57c2" stroke="#ffffff" stroke-width="0.6"/>
<text x="1214.0" y="749.8" font-size="11px" font-weight="bold" fill="#ffffff" textLength="14.4" lengthAdjust="spacingAndGlyphs">RSI</text>
<g fill="#131722"><g transform="translate(6.1,884.8) scale(0.622)"><path d="M14 22H7V11H0V4h14v18zM28 22h-8l7.5-18h8L28 22z"/><circle cx="20" cy="8" r="4"/></g>
<text x="34.1" y="898.4" font-size="15px" font-weight="bold" textLength="90.7" lengthAdjust="spacingAndGlyphs">TradingView</text></g>
<g font-size="13.5px" fill="#131722">
<text x="6.2" y="16.6" font-weight="bold" textLength="67.6" lengthAdjust="spacingAndGlyphs">ranadagger</text>
<text x="77.9" y="16.6" textLength="52.4" lengthAdjust="spacingAndGlyphs">published</text>
<text x="133.7" y="16.6" textLength="12.7" lengthAdjust="spacingAndGlyphs">on</text>
<text x="150.0" y="16.6" textLength="102.4" lengthAdjust="spacingAndGlyphs">TradingView.com,</text>
<text x="256.4" y="16.6" textLength="39.0" lengthAdjust="spacingAndGlyphs">August</text>
<text x="298.5" y="16.6" textLength="15.5" lengthAdjust="spacingAndGlyphs">27,</text>
<text x="318.7" y="16.6" textLength="27.5" lengthAdjust="spacingAndGlyphs">2021</text>
<text x="350.6" y="16.6" textLength="48.7" lengthAdjust="spacingAndGlyphs">16:30:02</text>
<text x="403.7" y="16.6" textLength="22.7" lengthAdjust="spacingAndGlyphs">UTC</text>
<text x="6.5" y="33.8" font-weight="bold" textLength="112.8" lengthAdjust="spacingAndGlyphs">BINANCE:UNIUSDT,</text>
<text x="123.5" y="33.8" font-weight="bold" textLength="14.5" lengthAdjust="spacingAndGlyphs">1D</text>
<text x="144.0" y="33.8" textLength="31.5" lengthAdjust="spacingAndGlyphs">27.11</text>
<path d="M179.1 34.3 L184.25 24.6 L189.4 34.3 Z" fill="#26a69a"/>
<text x="193.3" y="33.8" textLength="30.9" lengthAdjust="spacingAndGlyphs">+1.60</text>
<text x="228.3" y="33.8" textLength="49.8" lengthAdjust="spacingAndGlyphs">(+6.27%)</text>
<text x="282.3" y="33.8" font-weight="bold" textLength="13.0" lengthAdjust="spacingAndGlyphs">O:</text>
<text x="296.1" y="33.8" fill="#26a69a" textLength="32.4" lengthAdjust="spacingAndGlyphs">25.52</text>
<text x="332.0" y="33.8" font-weight="bold" textLength="13.3" lengthAdjust="spacingAndGlyphs">H:</text>
<text x="345.8" y="33.8" fill="#26a69a" textLength="32.4" lengthAdjust="spacingAndGlyphs">27.36</text>
<text x="382.2" y="33.8" font-weight="bold" textLength="10.0" lengthAdjust="spacingAndGlyphs">L:</text>
<text x="393.3" y="33.8" fill="#26a69a" textLength="32.1" lengthAdjust="spacingAndGlyphs">25.02</text>
<text x="429.2" y="33.8" font-weight="bold" textLength="11.1" lengthAdjust="spacingAndGlyphs">C:</text>
<text x="441.0" y="33.8" fill="#26a69a" textLength="31.9" lengthAdjust="spacingAndGlyphs">27.11</text>
</g>
</svg>
</body></html>
